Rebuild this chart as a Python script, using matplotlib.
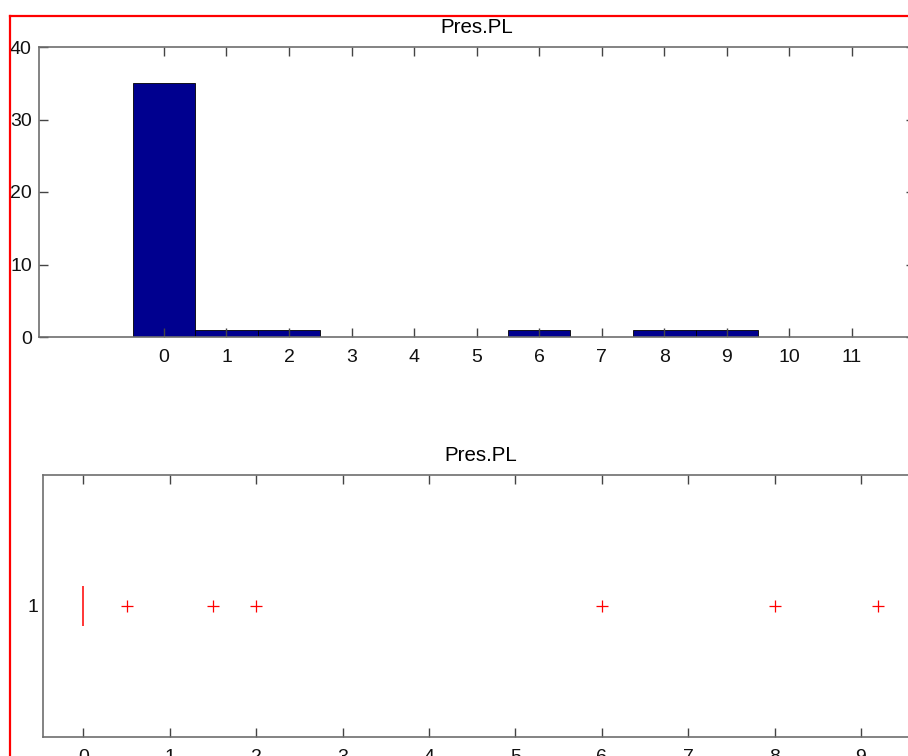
import matplotlib
matplotlib.use("Agg")
import matplotlib.pyplot as plt
from matplotlib.lines import Line2D

# ---- data ----
hist_centers = [0, 1, 2, 3, 4, 5, 6, 7, 8, 9, 10, 11]
hist_counts = [35, 1, 1, 0, 0, 0, 1, 0, 1, 1, 0, 0]
box_median = 0.0
box_outliers = [0.5, 1.5, 2.0, 6.0, 8.0, 9.2]
title_text = "Pres.PL"
top_yticks = [0, 10, 20, 30, 40]
bottom_xticks = [0, 1, 2, 3, 4, 5, 6, 7, 8, 9]

plt.rcParams['font.family'] = ['Liberation Sans', 'DejaVu Sans']
FS = 14
AX_COLOR = '#6e6e6e'

W, H = 908, 756
fig = plt.figure(figsize=(W / 100, H / 100), dpi=100)


def px_axes(left, top, right, bottom):
    return fig.add_axes([left / W, 1 - bottom / H, (right - left) / W, (bottom - top) / H])


def style(ax):
    for s in ax.spines.values():
        s.set_color(AX_COLOR)
        s.set_linewidth(1.2)
    ax.tick_params(direction='in', length=6.5, width=1.0, color='#444444',
                   labelsize=FS, labelcolor='#111111')


# ---- top: histogram ----
ax1 = px_axes(38.8, 47, 914.5, 337)
ax1.bar(hist_centers, hist_counts, width=1.0, color='#00008f', edgecolor='black', linewidth=0.6)
ax1.set_xlim(-2, 12)
ax1.set_ylim(0, 40)
ax1.set_xticks(hist_centers)
ax1.set_yticks(top_yticks)
style(ax1)
ax1.tick_params(axis='x', top=True, pad=8.5)
ax1.tick_params(axis='y', right=True, pad=5.0)
ax1.set_title(title_text, fontsize=14.8, pad=10)

# ---- bottom: box plot ----
ax2 = px_axes(43.4, 475, 918, 737)
ax2.vlines(box_median, 1 - 0.076, 1 + 0.076, colors='red', linewidth=1.1)
ax2.plot(box_outliers, [1] * len(box_outliers), linestyle='none', marker='+',
         color='red', markersize=8.5, markeredgewidth=0.9)
ax2.set_xlim(-0.463, 9.66)
ax2.set_ylim(0.5, 1.5)
ax2.set_xticks(bottom_xticks)
ax2.set_yticks([1])
style(ax2)
ax2.tick_params(axis='x', top=True, pad=8.5)
ax2.tick_params(axis='y', length=0, pad=3.5)
ax2.set_title(title_text, fontsize=14.8, pad=10)

# ---- red frame ----
fig.add_artist(Line2D([10 / W, 10 / W], [0, 1 - 16 / H], transform=fig.transFigure,
                      color='red', linewidth=1.6))
fig.add_artist(Line2D([10 / W, 1.0], [1 - 16 / H, 1 - 16 / H], transform=fig.transFigure,
                      color='red', linewidth=1.6))

fig.savefig('out.png', dpi=100)
